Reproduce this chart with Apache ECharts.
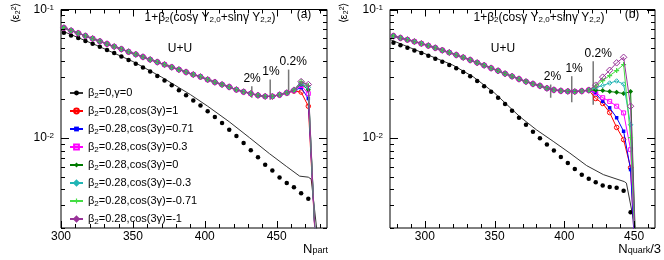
<!DOCTYPE html>
<html><head><meta charset="utf-8">
<script src="https://cdn.jsdelivr.net/npm/echarts@6/dist/echarts.min.js"></script>
<style>html,body{margin:0;padding:0;background:#fff}#c{width:664px;height:260px}</style>
</head><body><div id="c"></div>
<script>
// ---------- DATA ----------
const seriesNames = ['β2=0,γ=0','β2=0.28,cos(3γ)=1','β2=0.28,cos(3γ)=0.71','β2=0.28,cos(3γ)=0.3','β2=0.28,cos(3γ)=0','β2=0.28,cos(3γ)=-0.3','β2=0.28,cos(3γ)=-0.71','β2=0.28,cos(3γ)=-1'];

// Panel (a): N_part
const xA = [302,307,312,317,322,327,332,337,342,347,352,357,362,367,372,377,382,387,392,397,402,407,412,417,422,427,432,437,442,447,452,457,462,467,472,477];
const blackDotsA = [0.0659,0.0629,0.0599,0.0570,0.0541,0.0513,0.0485,0.0458,0.0431,0.0405,0.0379,0.0354,0.0329,0.0304,0.0281,0.0258,0.0236,0.0215,0.0196,0.0179,0.0162,0.0146,0.0131,0.0116,0.0104,0.00918,0.00804,0.00709,0.00622,0.00559,0.00495,0.00448,0.00414,0.00372,0.00338];
const blackLineXA = [300,325,350,370,390,402,417,431,445,457,466,472,474,479];
const blackLineA = [0.0687,0.0525,0.0394,0.0298,0.0218,0.0177,0.0134,0.0101,0.00757,0.0060,0.00506,0.00497,0.0048,0.0015];
const commonA = [0.0720,0.0686,0.0654,0.0623,0.0594,0.0566,0.0540,0.0515,0.0492,0.0469,0.0448,0.0428,0.0408,0.0390,0.0373,0.0356,0.0341,0.0326,0.0312,0.0300,0.0285,0.0272,0.0261,0.0250,0.0238,0.0229,0.0222,0.0215,0.0211,0.0211,0.0217,0.0225];
const tailA_c1   = [0.0232,0.0228,0.0177,0.0015];
const tailA_c071 = [0.0234,0.0247,0.0203,0.0015];
const tailA_c03  = [0.0234,0.0256,0.0222,0.0015];
const tailA_c0   = [0.0236,0.0263,0.0238,0.0015];
const tailA_cm03 = [0.0236,0.0266,0.0247,0.0015];
const tailA_cm071= [0.0236,0.0275,0.0256,0.0015];
const tailA_cm1  = [0.0236,0.0275,0.0261,0.0015];

// Panel (b): N_quark/3
const xB = [277.5,282.5,287.5,292.5,297.5,302.5,307.5,312.5,317.5,322.5,327.5,332.5,337.5,342.5,347.5,352.5,357.5,362.5,367.5,372.5,377.5,382.5,387.5,392.5,397.5,402.5,407.5,412.5,417.5,422.5,427.5,432.5,437.5,442.5,447.5,452.5];
const blackDotsB = [0.0551,0.0528,0.0504,0.0481,0.0459,0.0436,0.0414,0.0392,0.0371,0.0349,0.0326,0.0303,0.0278,0.0253,0.0229,0.0206,0.0184,0.0163,0.0144,0.0127,0.0112,0.00998,0.00893,0.00802,0.00713,0.00640,0.00576,0.00518,0.00482,0.00453,0.00428,0.00417,0.00412,0.00390,0.00265];
const blackLineXB = [275,320,335,350,368,380,392,404,416,428,443,444.5,452];
const blackLineB = [0.0584,0.0370,0.0298,0.0224,0.0147,0.0116,0.00944,0.00764,0.00611,0.00520,0.00459,0.00447,0.0017];
const commonB = [0.0622,0.0601,0.0582,0.0563,0.0543,0.0523,0.0503,0.0482,0.0463,0.0443,0.0424,0.0405,0.0386,0.0368,0.0350,0.0334,0.0317,0.0302,0.0288,0.0275,0.0264,0.0255,0.0244,0.0237,0.0233,0.0231,0.0230,0.0232,0.0236];
const tailB_c1   = [0.0203,0.0186,0.0158,0.0121,0.00974,0.00589,0.0005];
const tailB_c071 = [0.0222,0.0193,0.0172,0.0144,0.0113,0.00569,0.0005];
const tailB_c03  = [0.0226,0.0206,0.0193,0.0177,0.0157,0.00814,0.0005];
const tailB_c0   = [0.0236,0.0234,0.0230,0.0227,0.0222,0.0230,0.0005];
const tailB_cm03 = [0.0247,0.0256,0.0268,0.0278,0.0263,0.0127,0.0005];
const tailB_cm071= [0.0254,0.0280,0.0306,0.0335,0.0373,0.0101,0.0005];
const tailB_cm1  = [0.0258,0.0298,0.0337,0.0385,0.0425,0.0177,0.0005];

// Centrality annotations
const pctLabels = ['2%','1%','0.2%'];
const annXA = [432.7,445.5,458.3], annLowA = [0.0206,0.0199,0.0215], annHighA = [0.0253,0.0285,0.0341], annLabelXA = [432.9,446,461.5];
const annXB = [390.2,405.3,420.7], annLowB = [0.0206,0.0190,0.0182], annHighB = [0.0261,0.0303,0.0396], annLabelXB = [391.5,407,424.3];

// Ticks
const xMajorA = [300,350,400,450];
const xMinorA = [310,320,330,340,360,370,380,390,410,420,430,440,460,470,480];
const xMajorB = [300,350,400,450];
const xMinorB = [280,290,310,320,330,340,360,370,380,390,410,420,430,440,460];
const yMajor = [0.01,0.1];
const yMinor = [0.002,0.003,0.004,0.005,0.006,0.007,0.008,0.009,0.02,0.03,0.04,0.05,0.06,0.07,0.08,0.09];

// ---------- CHART ----------
const FONT = '"Liberation Sans", Arial, sans-serif';
const chart = echarts.init(document.getElementById('c'), null, {renderer:'canvas'});

const plusPath = 'path://M3,0L5,0L5,3L8,3L8,5L5,5L5,8L3,8L3,5L0,5L0,3L3,3Z';
const colStyles = [
  {color:'#ff0000', symbol:'circle', size:4.5, hollow:true},
  {color:'#0000ff', symbol:'rect', size:3.5},
  {color:'#ff00ff', symbol:'rect', size:4, hollow:true},
  {color:'#007a00', symbol:'diamond', size:5},
  {color:'#22b5b5', symbol:'diamond', size:4.5, hollow:true},
  {color:'#44dd44', symbol:plusPath, size:5},
  {color:'#993399', symbol:'diamond', size:6.5, hollow:true}
];
const tailsA = [tailA_c1,tailA_c071,tailA_c03,tailA_c0,tailA_cm03,tailA_cm071,tailA_cm1];
const tailsB = [tailB_c1,tailB_c071,tailB_c03,tailB_c0,tailB_cm03,tailB_cm071,tailB_cm1];

function zip(xs, ys){ return ys.map((y,i)=>[xs[i], y]); }

const series = [];
[[0, xA, blackDotsA, blackLineXA, blackLineA, commonA, tailsA],
 [1, xB, blackDotsB, blackLineXB, blackLineB, commonB, tailsB]].forEach(([g, xs, dots, lx, ly, common, tails])=>{
  series.push({type:'line', name:seriesNames[0], xAxisIndex:g, yAxisIndex:g, data:zip(lx, ly),
    symbol:'circle', showSymbol:false, lineStyle:{color:'#333', width:1}, itemStyle:{color:'#000'}, z:2});
  series.push({type:'scatter', name:'dots'+g, xAxisIndex:g, yAxisIndex:g, data:zip(xs, dots),
    symbol:'circle', symbolSize:4.5, itemStyle:{color:'#000', opacity:1}, z:3});
  colStyles.forEach((st, i)=>{
    const vals = common.concat(tails[i]);
    series.push({type:'line', name:seriesNames[i+1], xAxisIndex:g, yAxisIndex:g, data:zip(xs, vals),
      symbol:st.symbol, symbolSize:st.size, showSymbol:true, showAllSymbol:true,
      lineStyle:{color:st.color, width:1},
      itemStyle: st.hollow ? {color:'rgba(255,255,255,0)', borderColor:st.color, borderWidth:1} : {color:st.color, borderWidth:0},
      z:4+i});
  });
});

function tickData(xMaj, xMin, xRef){
  const d = [];
  xMaj.forEach(v=>d.push([v, 0.01, 0]));
  xMin.forEach(v=>d.push([v, 0.01, 1]));
  yMajor.forEach(v=>d.push([xRef, v, 2]));
  yMinor.forEach(v=>d.push([xRef, v, 3]));
  return d;
}
function tickRender(params, api){
  const cs = params.coordSys;
  const k = api.value(2);
  const st = {stroke:'#000', lineWidth:1};
  const p = api.coord([api.value(0), api.value(1)]);
  if (k < 2){
    const len = k === 0 ? 7 : 4;
    const x = Math.round(p[0]) + 0.5;
    const b = cs.y + cs.height, t = cs.y;
    return {type:'group', children:[
      {type:'line', shape:{x1:x, y1:b, x2:x, y2:b-len}, style:st},
      {type:'line', shape:{x1:x, y1:t, x2:x, y2:t+len}, style:st}]};
  } else {
    const len = k === 2 ? 8 : 4;
    const y = Math.round(p[1]) + 0.5;
    const l = cs.x, r = cs.x + cs.width;
    return {type:'group', children:[
      {type:'line', shape:{x1:l, y1:y, x2:l+len, y2:y}, style:st},
      {type:'line', shape:{x1:r, y1:y, x2:r-len, y2:y}, style:st}]};
  }
}
series.push({type:'custom', xAxisIndex:0, yAxisIndex:0, renderItem:tickRender, data:tickData(xMajorA, xMinorA, 300), encode:{x:0,y:1}, clip:false, silent:true, z:20});
series.push({type:'custom', xAxisIndex:1, yAxisIndex:1, renderItem:tickRender, data:tickData(xMajorB, xMinorB, 275), encode:{x:0,y:1}, clip:false, silent:true, z:20});

function annRender(params, api){
  const p1 = api.coord([api.value(0), api.value(1)]);
  const p2 = api.coord([api.value(0), api.value(2)]);
  const lx = api.coord([api.value(3), api.value(2)])[0];
  return {type:'group', children:[
    {type:'line', shape:{x1:p1[0], y1:p1[1], x2:p2[0], y2:p2[1]}, style:{stroke:'#777', lineWidth:1.5}},
    {type:'text', style:{text:pctLabels[params.dataIndex], x:lx, y:p2[1]-2, align:'center', verticalAlign:'bottom', font:'12px '+FONT, fill:'#000'}}
  ]};
}
series.push({type:'custom', xAxisIndex:0, yAxisIndex:0, renderItem:annRender, encode:{x:0,y:1},
  data:annXA.map((x,i)=>[x, annLowA[i], annHighA[i], annLabelXA[i]]), clip:false, silent:true, z:1});
series.push({type:'custom', xAxisIndex:1, yAxisIndex:1, renderItem:annRender, encode:{x:0,y:1},
  data:annXB.map((x,i)=>[x, annLowB[i], annHighB[i], annLabelXB[i]]), clip:false, silent:true, z:1});

function yFmt(v){
  const e = Math.log10(v), r = Math.round(e);
  if (Math.abs(e - r) > 1e-6) return '';
  return '10{sup|' + r + '}';
}
const yLabel = {fontSize:12, color:'#000', fontFamily:FONT, margin:7, formatter:yFmt,
  rich:{sup:{fontSize:8, fontFamily:FONT, color:'#000', verticalAlign:'top', lineHeight:8}}};
const xLabelStyle = {fontSize:12, color:'#000', fontFamily:FONT, margin:3};

function txt(x, y, text, align, size, subSize){
  return {type:'text', x:x, y:y, style:{text:text, align:align||'center', verticalAlign:'middle',
    font:(size||12)+'px '+FONT, fill:'#000', rich:{sub:{fontSize:subSize||8, fontFamily:FONT, fill:'#000', verticalAlign:'bottom', lineHeight:9, padding:[5,0,0,0]}}}};
}

chart.setOption({
  animation:false,
  backgroundColor:'#fff',
  grid:[
    {left:61, top:9.5, width:266, height:218.5, show:true, borderColor:'#000', borderWidth:1, backgroundColor:'transparent'},
    {left:390, top:9.5, width:265, height:218.5, show:true, borderColor:'#000', borderWidth:1, backgroundColor:'transparent'}
  ],
  xAxis:[
    {gridIndex:0, type:'value', min:300, max:485, interval:50, axisLine:{show:false}, axisTick:{show:false}, splitLine:{show:false},
      axisLabel:Object.assign({}, xLabelStyle, {formatter:v => (v % 50 === 0 ? String(v) : '')})},
    {gridIndex:1, type:'value', min:275, max:465, interval:25, axisLine:{show:false}, axisTick:{show:false}, splitLine:{show:false},
      axisLabel:Object.assign({}, xLabelStyle, {formatter:v => (v % 50 === 0 ? String(v) : '')})}
  ],
  yAxis:[
    {gridIndex:0, type:'log', logBase:10, min:0.002, max:0.1, axisLine:{show:false}, axisTick:{show:false}, splitLine:{show:false}, axisLabel:yLabel},
    {gridIndex:1, type:'log', logBase:10, min:0.002, max:0.1, axisLine:{show:false}, axisTick:{show:false}, splitLine:{show:false}, axisLabel:yLabel}
  ],
  legend:{
    data:seriesNames, orient:'vertical', left:64, top:81, itemWidth:13, itemHeight:6, itemGap:4,
    selectedMode:false,
    formatter:name => name.replace('β2', 'β{sub|2}'),
    textStyle:{fontSize:11, fontFamily:FONT, color:'#000', lineHeight:14,
      rich:{sub:{fontSize:8, fontFamily:FONT, color:'#000', verticalAlign:'bottom', lineHeight:14, padding:[4,0,0,0]}}}
  },
  series:series,
  graphic:[
    txt(210, 18, '1+β{sub|2}(cosγ Y{sub|2,0}+sinγ Y{sub|2,2})'),
    txt(539, 18, '1+β{sub|2}(cosγ Y{sub|2,0}+sinγ Y{sub|2,2})'),
    txt(304, 15, '(a)'),
    txt(632, 15, '(b)'),
    txt(180, 49, 'U+U'),
    txt(503, 49, 'U+U'),
    txt(328, 249, 'N{sub|part}', 'right', 13, 9),
    txt(661, 249, 'N{sub|quark}/3', 'right', 13, 9),
    {type:'text', x:16, y:13, rotation:Math.PI/2, style:{text:'⟨ε₂²⟩', align:'center', verticalAlign:'middle', font:'11px '+FONT, fill:'#000'}},
    {type:'text', x:344, y:13, rotation:Math.PI/2, style:{text:'⟨ε₂²⟩', align:'center', verticalAlign:'middle', font:'11px '+FONT, fill:'#000'}}
  ]
});
</script>
</body></html>
